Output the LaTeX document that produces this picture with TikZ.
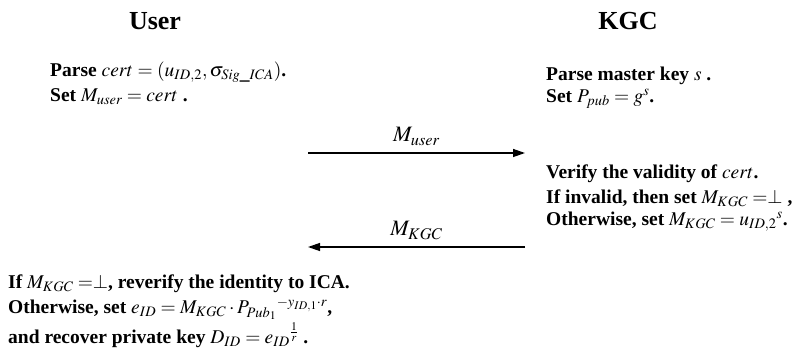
\documentclass[tikz,border=0pt]{standalone}
\usepackage{mathptmx}
\usepackage{fontspec}
\setmainfont{Liberation Serif}
\usetikzlibrary{arrows.meta}
\begin{document}
\begin{tikzpicture}[x=1pt,y=-1pt,
  txt/.style={anchor=west,inner sep=0pt,font=\fontsize{19.5}{23}\selectfont\bfseries},
  ttl/.style={inner sep=0pt,font=\fontsize{26}{30}\selectfont\bfseries},
  lbl/.style={inner sep=0pt,font=\fontsize{22}{26}\selectfont},
  msg/.style={line width=1.3pt,-{Triangle[length=12pt,width=8pt]}}]
\useasboundingbox (0,0) rectangle (794,355);
\node[ttl] (user) at (155,21) {User};
\node[ttl] (kgc) at (628,21) {KGC};
\node[txt] (u1) at (50,72) {Parse $cert=(u_{ID,2},\sigma_{Sig\_ICA})$.};
\node[txt] (u2) at (50,97) {Set $M_{user}=cert$ .};
\node[txt] (k1) at (546,76) {Parse master key $s$ .};
\node[txt] (k2) at (546,99) {Set $P_{pub}=g^{s}$.};
\node[txt] (k3) at (546,174) {Verify the validity of $cert$.};
\node[txt] (k4) at (546,198) {If invalid, then set $M_{KGC}=\perp$ ,};
\node[txt] (k5) at (546,222) {Otherwise, set $M_{KGC}=u_{ID,2}{}^{s}$.};
\node[txt] (b1) at (8,284) {If $M_{KGC}=\perp$, reverify the identity to ICA.};
\node[txt] (b2) at (8,309) {Otherwise, set $e_{ID}=M_{KGC}\cdot P_{Pub_1}{}^{-y_{ID,1}\cdot r}$,};
\node[txt] (b3) at (8,335) {and recover private key $D_{ID}=e_{ID}{}^{\frac{1}{r}}$ .};
\coordinate (a1s) at (308,153);
\coordinate (a1e) at (525,153);
\coordinate (a2s) at (525,247);
\coordinate (a2e) at (308,247);
\draw[msg] (a1s) -- (a1e) node[lbl,midway,above=7pt] (m1) {$M_{user}$};
\draw[msg] (a2s) -- (a2e) node[lbl,midway,above=7pt] (m2) {$M_{KGC}$};
\end{tikzpicture}
\end{document}
